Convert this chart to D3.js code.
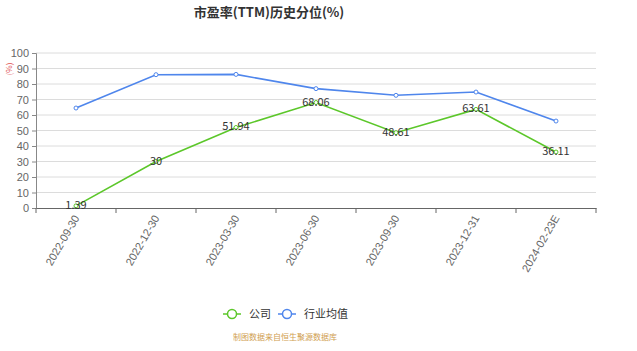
<!DOCTYPE html>
<html>
<head>
<meta charset="utf-8">
<script src="https://cdn.jsdelivr.net/npm/d3@7"></script>
<style>
  body { margin: 0; background: #fff; }
  svg { font-family: "Noto Sans CJK SC", "Open Sans", sans-serif; }
</style>
</head>
<body>
<svg id="chart" width="637" height="351"></svg>
<script>
// Data
const categories = ["2022-09-30", "2022-12-30", "2023-03-30", "2023-06-30", "2023-09-30", "2023-12-31", "2024-02-23E"];
const companyValues = [1.39, 30, 51.94, 68.06, 48.61, 63.61, 36.11];
const industryValues = [64.5, 86.0, 86.2, 77.0, 72.7, 74.8, 56.1];
const yTicks = [0, 10, 20, 30, 40, 50, 60, 70, 80, 90, 100];
const seriesNames = ["公司", "行业均值"];

const size = {
    width: 637,
    height: 351,
    margin: { top: 53, right: 41, bottom: 143, left: 36 }
};
const colors = { company: "#5cc72a", industry: "#4f86ec" };

const svg = d3.select("#chart");

// Scales
const xScale = d3.scaleBand()
    .domain(categories)
    .range([size.margin.left, size.width - size.margin.right]);

const yScale = d3.scaleLinear()
    .domain([0, 100])
    .range([size.height - size.margin.bottom, size.margin.top]);

const xPos = d => xScale(d) + xScale.bandwidth() / 2;

// Grid lines
svg.append("g")
    .selectAll("line")
    .data(yTicks.filter(t => t > 0))
    .join("line")
    .attr("x1", size.margin.left)
    .attr("x2", size.width - size.margin.right)
    .attr("y1", d => yScale(d))
    .attr("y2", d => yScale(d))
    .attr("stroke", "#dcdcdc")
    .attr("stroke-width", 1);

// Y axis
const yAxis = svg.append("g")
    .attr("transform", `translate(${size.margin.left}, 0)`)
    .call(d3.axisLeft(yScale).tickValues(yTicks).tickSize(4).tickPadding(3));
yAxis.select(".domain").attr("stroke", "#888");
yAxis.selectAll(".tick line").attr("stroke", "#888");
yAxis.selectAll("text").attr("fill", "#666").attr("font-size", 11);

// X axis
const xAxis = svg.append("g")
    .attr("transform", `translate(0, ${size.height - size.margin.bottom})`)
    .call(d3.axisBottom(xScale).tickSize(0).tickPadding(0));
xAxis.select(".domain").attr("stroke", "#666");
xAxis.selectAll(".tick line").remove();
xAxis.selectAll("text")
    .attr("fill", "#666")
    .attr("font-size", 11)
    .style("text-anchor", "end")
    .attr("dx", "-0.6em")
    .attr("dy", "0.75em")
    .attr("transform", "rotate(-60)");

// Tick marks on band boundaries
const boundaries = categories.map(c => xScale(c)).concat([xScale.range()[1]]);
svg.append("g")
    .selectAll("line")
    .data(boundaries)
    .join("line")
    .attr("x1", d => d)
    .attr("x2", d => d)
    .attr("y1", yScale(0))
    .attr("y2", yScale(0) + 5)
    .attr("stroke", "#666");

// Lines
const line = d3.line()
    .x((d, i) => xPos(categories[i]))
    .y(d => yScale(d));

function drawSeries(values, color, withLabels) {
    svg.append("path")
        .datum(values)
        .attr("fill", "none")
        .attr("stroke", color)
        .attr("stroke-width", 1.6)
        .attr("d", line);

    svg.append("g")
        .selectAll("circle")
        .data(values)
        .join("circle")
        .attr("cx", (d, i) => xPos(categories[i]))
        .attr("cy", d => yScale(d))
        .attr("r", 2)
        .attr("fill", "#fff")
        .attr("stroke", color)
        .attr("stroke-width", 1);

    if (withLabels) {
        svg.append("g")
            .selectAll("text")
            .data(values)
            .join("text")
            .attr("x", (d, i) => xPos(categories[i]))
            .attr("y", d => yScale(d) + 3)
            .attr("text-anchor", "middle")
            .attr("font-size", 11)
            .attr("fill", "#333")
            .text(d => d);
    }
}

drawSeries(industryValues, colors.industry, false);
drawSeries(companyValues, colors.company, true);

// Title
svg.append("text")
    .attr("x", 269)
    .attr("y", 17)
    .attr("text-anchor", "middle")
    .attr("font-size", 13)
    .attr("font-weight", "bold")
    .attr("fill", "#333")
    .text("市盈率(TTM)历史分位(%)");

// Y axis unit
svg.append("text")
    .attr("transform", "translate(12, 69) rotate(-90)")
    .attr("text-anchor", "middle")
    .attr("font-size", 8)
    .attr("fill", "#e05050")
    .text("(%)");

// Legend
const legend = svg.append("g").attr("transform", "translate(223, 314)");
const legendItems = [
    { name: seriesNames[0], color: colors.company, x: 0 },
    { name: seriesNames[1], color: colors.industry, x: 55 }
];
legendItems.forEach(item => {
    const g = legend.append("g").attr("transform", `translate(${item.x}, 0)`);
    g.append("line")
        .attr("x1", 0).attr("x2", 18)
        .attr("y1", 0).attr("y2", 0)
        .attr("stroke", item.color)
        .attr("stroke-width", 1.5);
    g.append("circle")
        .attr("cx", 9).attr("cy", 0).attr("r", 4.5)
        .attr("fill", "#fff")
        .attr("stroke", item.color)
        .attr("stroke-width", 1.5);
    g.append("text")
        .attr("x", 26).attr("y", 4)
        .attr("font-size", 11)
        .attr("fill", "#333")
        .text(item.name);
});

// Source note
svg.append("text")
    .attr("x", 233)
    .attr("y", 340)
    .attr("font-size", 8)
    .attr("fill", "#d0a050")
    .text("制图数据来自恒生聚源数据库");
</script>
</body>
</html>
